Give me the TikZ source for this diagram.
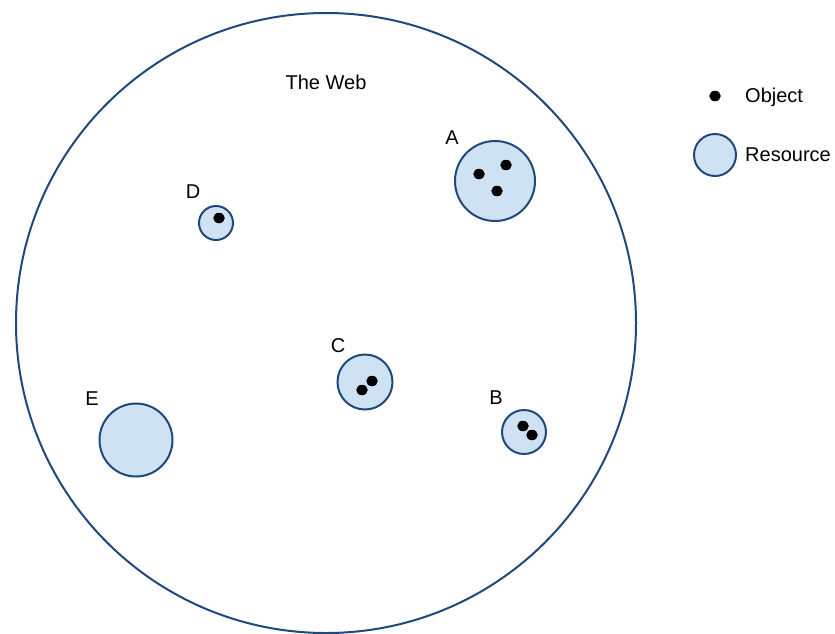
\documentclass[tikz,border=0pt]{standalone}
\usepackage{fontspec}
\setmainfont{Liberation Sans}
\usepackage{xcolor}
\usetikzlibrary{positioning, shapes.geometric}
\definecolor{webblue}{RGB}{31,73,122}
\definecolor{resfill}{RGB}{207,226,243}

\begin{document}
\begin{tikzpicture}[x=1pt, y=-1pt,
  resource/.style={circle, draw=webblue, line width=2pt, fill=resfill, inner sep=0pt},
  object/.style={ellipse, fill=black, minimum width=11.5pt, minimum height=10.5pt, inner sep=0pt},
  lbl/.style={font=\fontsize{20}{24}\selectfont, inner sep=0pt}]
  \useasboundingbox (0,0) rectangle (835,633);
  % The Web
  \node[circle, draw=webblue, line width=2pt, minimum size=620pt, inner sep=0pt] (web) at (326,323) {};
  \node[lbl] (webname) at (326,82) {The Web};
  % Resources
  \node[resource, minimum size=80pt] (A) at (495,181) {};
  \node[resource, minimum size=44pt] (B) at (524,432) {};
  \node[resource, minimum size=55pt] (C) at (365,382) {};
  \node[resource, minimum size=34pt] (D) at (216,223) {};
  \node[resource, minimum size=73pt] (E) at (136,440) {};
  \node[lbl] (Aname) at (452,138) {A};
  \node[lbl] (Bname) at (496,398) {B};
  \node[lbl] (Cname) at (338,346) {C};
  \node[lbl] (Dname) at (193,192) {D};
  \node[lbl] (Ename) at (92,399) {E};
  % Objects
  \node[object] (a1) at (479,174) {};
  \node[object] (a2) at (506,165) {};
  \node[object] (a3) at (497,191) {};
  \node[object] (b1) at (523,426) {};
  \node[object] (b2) at (532,435) {};
  \node[object] (c1) at (362,390) {};
  \node[object] (c2) at (372,381) {};
  \node[object] (d1) at (219,218) {};
  % Legend
  \node[object] (legobj) at (715,96) {};
  \node[lbl, anchor=west] (legobjname) at (745,97) {Object};
  \node[resource, minimum size=42pt] (legres) at (715,155) {};
  \node[lbl, anchor=west] (legresname) at (745,155) {Resource};
\end{tikzpicture}
\end{document}
